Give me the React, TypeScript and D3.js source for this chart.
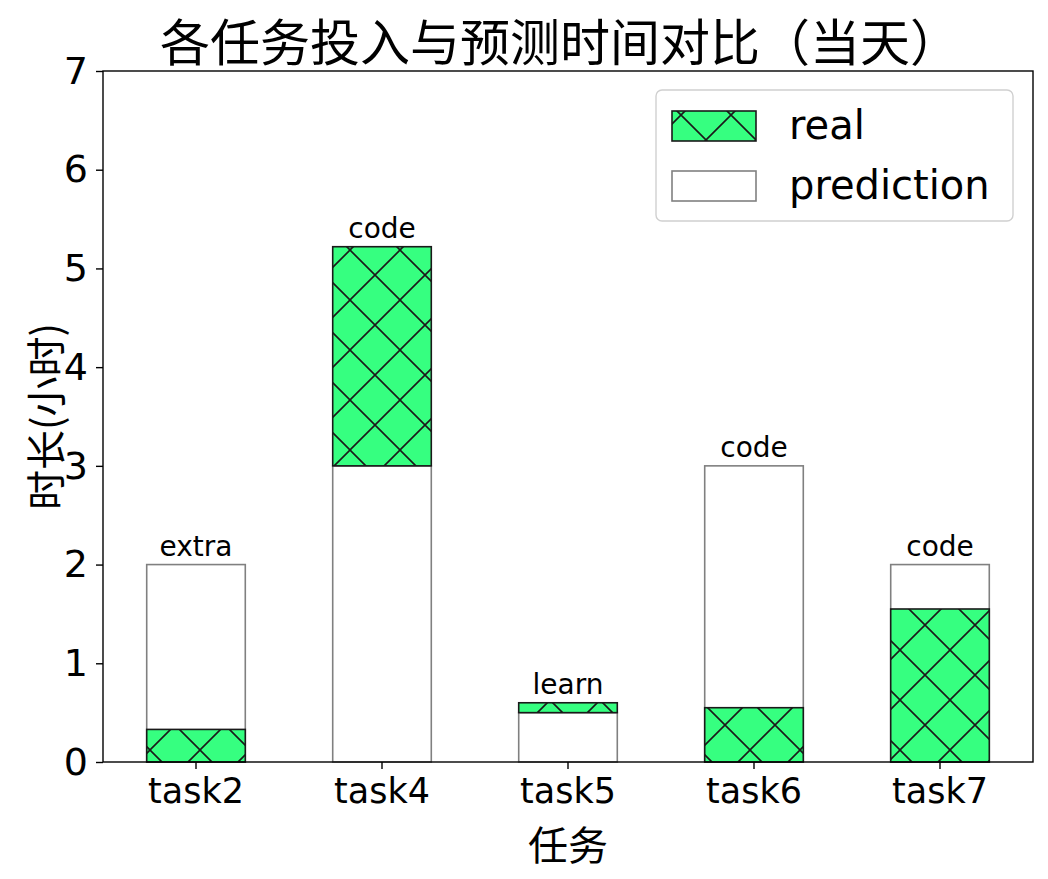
import { useEffect, useRef } from 'react';
import * as d3 from 'd3';

const tasks = ['task2', 'task4', 'task5', 'task6', 'task7'];
const realHours = [0.33, 5.22, 0.6, 0.55, 1.55];
const predHours = [2, 3, 0.5, 3, 2];
const kinds = ['extra', 'code', 'learn', 'code', 'code'];
const yTicks = [0, 1, 2, 3, 4, 5, 6, 7];

const GREEN = '#36ff80';
const FONT = "'DejaVu Sans', 'Noto Sans CJK SC', sans-serif";
const CJK = "'Noto Sans CJK SC', sans-serif";

const App = () => {
  const svgRef = useRef<SVGSVGElement>(null);

  useEffect(() => {
    const width = 1048;
    const height = 879;
    const margin = { top: 71, right: 15, bottom: 117, left: 103 };

    const svg = d3.select(svgRef.current).attr('width', width).attr('height', height);
    svg.selectAll('*').remove();

    // matplotlib-style 'x' hatch
    const defs = svg.append('defs');
    const pat = defs
      .append('pattern')
      .attr('id', 'hatchx')
      .attr('patternUnits', 'userSpaceOnUse')
      .attr('width', 50)
      .attr('height', 50);
    pat.append('rect').attr('width', 50).attr('height', 50).attr('fill', GREEN);
    pat
      .append('path')
      .attr('d', 'M-5,-5L55,55M-5,55L55,-5')
      .attr('stroke', '#1a1a1a')
      .attr('stroke-width', 1.6);

    const x = d3
      .scaleBand()
      .domain(tasks)
      .range([margin.left, width - margin.right])
      .paddingInner(0.47)
      .paddingOuter(0.235);

    const y = d3
      .scaleLinear()
      .domain([0, 7])
      .range([height - margin.bottom, margin.top]);

    const rows = tasks.map((t, i) => ({ t, real: realHours[i], pred: predHours[i], kind: kinds[i] }));

    // prediction bars
    svg
      .append('g')
      .selectAll('rect')
      .data(rows)
      .join('rect')
      .attr('x', (d) => x(d.t)!)
      .attr('width', x.bandwidth())
      .attr('y', (d) => y(d.pred))
      .attr('height', (d) => y(0) - y(d.pred))
      .attr('fill', 'white')
      .attr('stroke', 'gray')
      .attr('stroke-width', 1.6);

    // real bars: stacked above prediction when it overruns
    svg
      .append('g')
      .selectAll('rect')
      .data(rows)
      .join('rect')
      .attr('x', (d) => x(d.t)!)
      .attr('width', x.bandwidth())
      .attr('y', (d) => y(d.real))
      .attr('height', (d) => (d.real > d.pred ? y(d.pred) - y(d.real) : y(0) - y(d.real)))
      .attr('fill', 'url(#hatchx)')
      .attr('stroke', '#1a1a1a')
      .attr('stroke-width', 1.6);

    svg
      .append('g')
      .selectAll('text')
      .data(rows)
      .join('text')
      .attr('x', (d) => x(d.t)! + x.bandwidth() / 2)
      .attr('y', (d) => y(Math.max(d.real, d.pred)) - 9)
      .attr('text-anchor', 'middle')
      .style('font-family', FONT)
      .style('font-size', '28px')
      .text((d) => d.kind);

    // axes frame
    svg
      .append('rect')
      .attr('x', margin.left)
      .attr('y', margin.top)
      .attr('width', width - margin.left - margin.right)
      .attr('height', height - margin.bottom - margin.top)
      .attr('fill', 'none')
      .attr('stroke', 'black')
      .attr('stroke-width', 1.4);

    const xAxis = svg
      .append('g')
      .attr('transform', `translate(0,${height - margin.bottom})`)
      .call(d3.axisBottom(x).tickSizeInner(7).tickSizeOuter(0).tickPadding(9));
    xAxis.select('.domain').remove();
    xAxis.selectAll('line').attr('stroke-width', 1.4);
    xAxis
      .selectAll('text')
      .style('font-family', FONT)
      .style('font-size', '35px')
      .attr('fill', 'black');

    const yAxis = svg
      .append('g')
      .attr('transform', `translate(${margin.left},0)`)
      .call(
        d3
          .axisLeft(y)
          .tickValues(yTicks)
          .tickFormat(d3.format('d'))
          .tickSizeInner(7)
          .tickSizeOuter(0)
          .tickPadding(8)
      );
    yAxis.select('.domain').remove();
    yAxis.selectAll('line').attr('stroke-width', 1.4);
    yAxis
      .selectAll('text')
      .style('font-family', FONT)
      .style('font-size', '38px')
      .attr('fill', 'black');

    svg
      .append('text')
      .attr('x', (margin.left + width - margin.right) / 2 - 8)
      .attr('y', 61)
      .attr('text-anchor', 'middle')
      .style('font-family', CJK)
      .style('font-size', '50px')
      .text('各任务投入与预测时间对比（当天）');

    svg
      .append('text')
      .attr('x', (margin.left + width - margin.right) / 2)
      .attr('y', 860)
      .attr('text-anchor', 'middle')
      .style('font-family', CJK)
      .style('font-size', '40px')
      .text('任务');

    svg
      .append('text')
      .attr('transform', `translate(61,${(margin.top + height - margin.bottom) / 2}) rotate(-90)`)
      .attr('text-anchor', 'middle')
      .style('font-family', CJK)
      .style('font-size', '40px')
      .text('时长(小时)');

    // legend
    const lg = svg.append('g').attr('transform', 'translate(656,90)');
    lg.append('rect')
      .attr('width', 357)
      .attr('height', 131)
      .attr('rx', 6)
      .attr('fill', 'white')
      .attr('fill-opacity', 0.8)
      .attr('stroke', '#d0d0d0')
      .attr('stroke-width', 1.4);
    const items = [
      { label: 'real', fill: 'url(#hatchx)', stroke: '#1a1a1a' },
      { label: 'prediction', fill: 'white', stroke: 'gray' },
    ];
    items.forEach((it, i) => {
      const yy = 21 + i * 60;
      lg.append('rect')
        .attr('x', 16)
        .attr('y', yy)
        .attr('width', 84)
        .attr('height', 30)
        .attr('fill', it.fill)
        .attr('stroke', it.stroke)
        .attr('stroke-width', 1.6);
      lg.append('text')
        .attr('x', 133)
        .attr('y', yy + 28)
        .style('font-family', FONT)
        .style('font-size', '40px')
        .text(it.label);
    });
  }, []);

  return (
    <div style={{ position: 'absolute', left: 0, top: 0 }}>
      <svg ref={svgRef} style={{ display: 'block' }}></svg>
    </div>
  );
};

export default App;
